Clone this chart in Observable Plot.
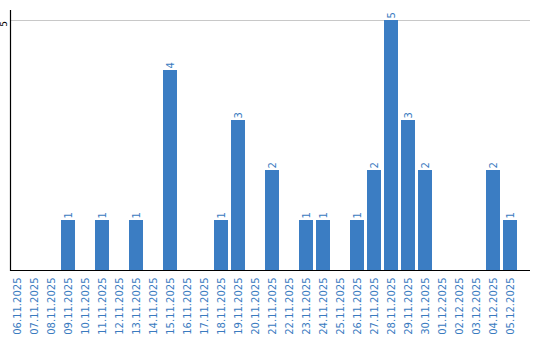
<!DOCTYPE html>
<html>
<head>
<meta charset="utf-8">
<script src="https://cdn.jsdelivr.net/npm/d3@7"></script>
<script src="https://cdn.jsdelivr.net/npm/@observablehq/plot@0.6"></script>
<style>
  html, body { margin: 0; padding: 0; background: #fff; }
</style>
</head>
<body>
<div id="chart"></div>
<script>
const dates = [
  "06.11.2025","07.11.2025","08.11.2025","09.11.2025","10.11.2025",
  "11.11.2025","12.11.2025","13.11.2025","14.11.2025","15.11.2025",
  "16.11.2025","17.11.2025","18.11.2025","19.11.2025","20.11.2025",
  "21.11.2025","22.11.2025","23.11.2025","24.11.2025","25.11.2025",
  "26.11.2025","27.11.2025","28.11.2025","29.11.2025","30.11.2025",
  "01.12.2025","02.12.2025","03.12.2025","04.12.2025","05.12.2025"
];
const counts = [
  0,0,0,1,0,
  1,0,1,0,4,
  0,0,1,3,0,
  2,0,1,1,0,
  1,2,5,3,2,
  0,0,0,2,1
];
const yTicks = [5];

const data = dates.map((d, i) => ({date: d, value: counts[i]}));
const nonZero = data.filter(d => d.value > 0);
const blue = "#3b7dc3";
const labelBlue = "#3a7bbf";

const chart = Plot.plot({
  width: 540,
  height: 340,
  marginTop: 10,
  marginRight: 10,
  marginBottom: 70,
  marginLeft: 10,
  style: {fontFamily: "DejaVu Sans, Verdana, sans-serif", fontSize: "10px", background: "#fff"},
  x: {type: "band", domain: dates, paddingInner: 3/17, paddingOuter: 0.38235, align: 0, round: false, label: null},
  y: {domain: [0, 5.2], label: null, axis: null},
  marks: [
    Plot.gridY(yTicks, {stroke: "#c8c8c8", strokeOpacity: 1}),
    Plot.barY(data, {x: "date", y: "value", fill: blue}),
    Plot.text(nonZero, {x: "date", y: "value", text: d => String(d.value), rotate: -90, textAnchor: "start", dy: -2, fill: labelBlue, fontSize: 10}),
    Plot.axisX({tickRotate: -90, tickSize: 0, tickPadding: 7, fill: labelBlue, fontSize: 10, label: null}),
    Plot.text(yTicks, {y: d => d, text: d => String(d), frameAnchor: "left", dx: -6, dy: 0.5, rotate: -90, textAnchor: "end", fill: "#000", fontSize: 9}),
    Plot.ruleY([0], {stroke: "#000", strokeWidth: 1.2}),
    Plot.frame({anchor: "left", stroke: "#000", strokeWidth: 1.2})
  ]
});
document.getElementById("chart").appendChild(chart);
</script>
</body>
</html>
